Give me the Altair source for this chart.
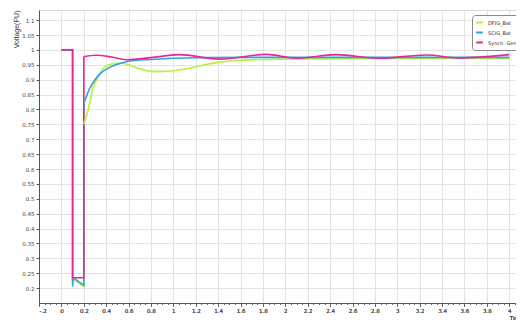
import altair as alt
import pandas as pd

series_names = ["DFIG_Bat", "SCIG_Bat", "Synch. Gen._Bat"]
colors = ["#b8f03a", "#2fa3e0", "#e8259b"]

# fault / step portion (time, value)
dfig_step_t = [0.0, 0.1, 0.1, 0.105, 0.2, 0.2]
dfig_step_v = [1.0, 1.0, 0.22, 0.23, 0.205, 0.75]
scig_step_t = [0.0, 0.1, 0.1, 0.105, 0.2, 0.2]
scig_step_v = [1.0, 1.0, 0.205, 0.235, 0.21, 0.82]
sync_step_t = [0.0, 0.1, 0.1, 0.2, 0.2]
sync_step_v = [1.0, 1.0, 0.235, 0.235, 0.977]

# recovery portion (time, value)
dfig_rec_t = [0.2, 0.24, 0.28, 0.33, 0.38, 0.45, 0.52, 0.6, 0.7, 0.85, 1.0, 1.17, 1.3, 1.45, 1.6, 1.8, 2.2, 3.0, 4.0]
dfig_rec_v = [0.75, 0.8, 0.87, 0.91, 0.94, 0.953, 0.956, 0.95, 0.936, 0.927, 0.93, 0.94, 0.952, 0.96, 0.965, 0.968, 0.97, 0.971, 0.971]
scig_rec_t = [0.2, 0.25, 0.3, 0.34, 0.4, 0.5, 0.6, 0.8, 1.0, 1.3, 1.6, 2.0, 3.0, 4.0]
scig_rec_v = [0.82, 0.868, 0.9, 0.918, 0.935, 0.952, 0.962, 0.968, 0.972, 0.974, 0.975, 0.975, 0.975, 0.975]
sync_rec_t = [0.2, 0.31, 0.45, 0.58, 0.8, 1.05, 1.42, 1.83, 2.1, 2.45, 2.84, 3.26, 3.55, 4.0]
sync_rec_v = [0.977, 0.982, 0.976, 0.967, 0.974, 0.984, 0.969, 0.985, 0.972, 0.984, 0.972, 0.983, 0.973, 0.984]

x_ticks = [-0.2, 0, 0.2, 0.4, 0.6, 0.8, 1, 1.2, 1.4, 1.6, 1.8, 2, 2.2, 2.4, 2.6, 2.8, 3, 3.2, 3.4, 3.6, 3.8, 4]
y_ticks = [0.2, 0.25, 0.3, 0.35, 0.4, 0.45, 0.5, 0.55, 0.6, 0.65, 0.7, 0.75, 0.8, 0.85, 0.9, 0.95, 1, 1.05, 1.1]
minor_ticks = [round(-0.2 + 0.05 * i, 2) for i in range(86)]


def frame(ts, vs, name, order):
    return pd.DataFrame({"t": ts, "v": vs, "s": name, "o": list(range(len(ts))), "k": order})


step_df = pd.concat([
    frame(dfig_step_t, dfig_step_v, series_names[0], 0),
    frame(scig_step_t, scig_step_v, series_names[1], 1),
    frame(sync_step_t, sync_step_v, series_names[2], 2),
])
rec_df = pd.concat([
    frame(dfig_rec_t, dfig_rec_v, series_names[0], 0),
    frame(scig_rec_t, scig_rec_v, series_names[1], 1),
    frame(sync_rec_t, sync_rec_v, series_names[2], 2),
])

xdom = [-0.2, 4.06]
ydom = [0.15, 1.134]

color = alt.Color(
    "s:N",
    scale=alt.Scale(domain=series_names, range=colors),
    legend=alt.Legend(
        title=None, orient="none", legendX=433, legendY=5,
        fillColor="white", strokeColor="#8a8a8a", cornerRadius=3, padding=3,
        labelFontSize=5, labelColor="#333", symbolType="stroke", symbolSize=45,
        symbolStrokeWidth=2, rowPadding=1, labelLimit=200, labelFont="DejaVu Sans",
    ),
)

xaxis = alt.Axis(
    orient="bottom",
    values=x_ticks, labelExpr="abs(datum.value + 0.2) < 1e-6 ? '-.2' : format(datum.value, '~g')",
    labelFontSize=5.5, labelColor="#444", tickSize=3, tickColor="#555",
    domainColor="#555", gridColor="#e3e3e3", labelFont="DejaVu Sans",
    title="Time", titleFontSize=6, titleFontWeight="normal", titleColor="#333",
    titleAnchor="start", titleAlign="left", titleX=470, titleY=17, titleBaseline="bottom",
)
minor_axis = alt.Axis(
    orient="bottom", values=minor_ticks, labels=False, tickSize=1.5, grid=False,
    domain=False, title=None, tickColor="#666",
)
yaxis = alt.Axis(
    values=y_ticks, format="~g", labelFontSize=5.5, labelColor="#444",
    tickSize=3, tickColor="#555", domainColor="#555", gridColor="#e3e3e3",
    labelFont="DejaVu Sans", title="Voltage(PU)", titleFontSize=7,
    titleFontWeight="normal", titleColor="#333", titleAnchor="end", titleX=-20,
)

xscale = alt.Scale(domain=xdom, nice=False, zero=False)
yscale = alt.Scale(domain=ydom, nice=False, zero=False)
x = alt.X("t:Q", scale=xscale, axis=xaxis)
y = alt.Y("v:Q", scale=yscale, axis=yaxis)

step = alt.Chart(step_df).mark_line(strokeWidth=1.6, clip=True).encode(
    x=x, y=y, color=color, detail="s:N", order="o:Q"
)
rec = alt.Chart(rec_df).mark_line(strokeWidth=1.6, interpolate="monotone", clip=True).encode(
    x=x, y=y, color=color, detail="s:N", order="o:Q"
)

minor_df = pd.DataFrame({"t": minor_ticks, "v": [0.5] * len(minor_ticks)})
minor = alt.Chart(minor_df).mark_point(opacity=0).encode(
    x=alt.X("t:Q", scale=xscale, axis=minor_axis),
    y=y,
)

chart = alt.layer(step, rec, minor).resolve_axis(x="independent").properties(
    width=477, height=293,
    autosize=alt.AutoSizeParams(type="none"),
    padding={"left": 31, "top": 2, "right": 0, "bottom": 19},
).configure_view(stroke="#d8d8d8")

chart.save("out.html", embed_options={"renderer": "svg", "actions": False})
